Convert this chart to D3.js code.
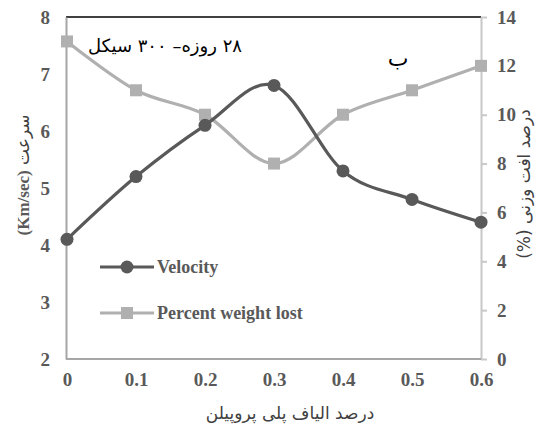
<!DOCTYPE html>
<html>
<head>
<meta charset="utf-8">
<script src="https://cdn.jsdelivr.net/npm/d3@7"></script>
<style>
  html, body { margin: 0; padding: 0; background: #fff; }
  svg { display: block; }
  .num { font-family: "Liberation Serif", "Times New Roman", serif; font-weight: bold; }
  .fa { font-family: "DejaVu Sans", "Noto Sans", sans-serif; }
</style>
</head>
<body>
<svg id="chart" width="539" height="429"></svg>
<script>
// Fibre content (%) along the x axis
const fibre = [0, 0.1, 0.2, 0.3, 0.4, 0.5, 0.6];
// Pulse velocity (Km/sec), left axis
const velocity = [4.1, 5.2, 6.1, 6.8, 5.3, 4.8, 4.4];
// Percent weight lost, right axis
const weightLost = [13, 11, 10, 8, 10, 11, 12];

const xTicks = [0, 0.1, 0.2, 0.3, 0.4, 0.5, 0.6];
const leftTicks = [2, 3, 4, 5, 6, 7, 8];
const rightTicks = [0, 2, 4, 6, 8, 10, 12, 14];

const seriesNames = ["Velocity", "Percent weight lost"];
const xTitle = "درصد الیاف پلی پروپیلن";
const leftTitleFa = "سرعت";
const leftTitleUnit = "(Km/sec)";
const rightTitle = "درصد افت وزنی (%)";
const note = "۲۸ روزه– ۳۰۰ سیکل";
const panel = "ب";

const svg = d3.select("#chart");
const m = { left: 66, right: 481, top: 17, bottom: 359 };

const x = d3.scaleLinear().domain([0, 0.6]).range([m.left + 1, m.right]);
const yL = d3.scaleLinear().domain([2, 8]).range([m.bottom, m.top]);
const yR = d3.scaleLinear().domain([0, 14]).range([m.bottom, m.top]);

const darkCol = "#595959";
const lightCol = "#b0b0b0";

// top frame line
svg.append("line")
  .attr("x1", m.left).attr("x2", m.right)
  .attr("y1", m.top).attr("y2", m.top)
  .attr("stroke", "#000").attr("stroke-width", 1.5);

// left axis
const axL = svg.append("g").attr("transform", `translate(${m.left},0)`)
  .call(d3.axisLeft(yL).tickValues(leftTicks).tickSize(0).tickPadding(16).tickFormat(d3.format("d")));
axL.select(".domain").attr("stroke", "#a6a6a6").attr("stroke-width", 2);

// right axis
const axR = svg.append("g").attr("transform", `translate(${m.right},0)`)
  .call(d3.axisRight(yR).tickValues(rightTicks).tickSize(6).tickSizeOuter(0).tickPadding(10).tickFormat(d3.format("d")));
axR.select(".domain").attr("stroke", "#c8c8c8").attr("stroke-width", 2);
axR.selectAll(".tick line").attr("stroke", "#c8c8c8").attr("stroke-width", 2);

// bottom axis
const axB = svg.append("g").attr("transform", `translate(0,${m.bottom})`)
  .call(d3.axisBottom(x).tickValues(xTicks).tickSize(0).tickPadding(14).tickFormat(d => d === 0 ? "0" : d3.format(".1f")(d)));
axB.select(".domain").attr("stroke", "#a6a6a6").attr("stroke-width", 2)
  .attr("d", `M${m.left},0H${m.right}`);

[axL, axR, axB].forEach(a => a.attr("font-family", null).attr("font-size", null));
svg.selectAll(".tick text")
  .attr("class", "num")
  .style("font-size", "19px").style("fill", darkCol);

const curve = d3.curveCardinal.tension(0);

// weight lost series
const lineR = d3.line().x((d, i) => x(fibre[i])).y(d => yR(d)).curve(curve);
svg.append("path").datum(weightLost)
  .attr("d", lineR).attr("fill", "none")
  .attr("stroke", lightCol).attr("stroke-width", 3.2);
svg.selectAll(".sq").data(weightLost).enter().append("rect")
  .attr("x", (d, i) => x(fibre[i]) - 6).attr("y", d => yR(d) - 6)
  .attr("width", 12).attr("height", 12).attr("fill", lightCol);

// velocity series
const lineL = d3.line().x((d, i) => x(fibre[i])).y(d => yL(d)).curve(curve);
svg.append("path").datum(velocity)
  .attr("d", lineL).attr("fill", "none")
  .attr("stroke", darkCol).attr("stroke-width", 3.2);
svg.selectAll(".dot").data(velocity).enter().append("circle")
  .attr("cx", (d, i) => x(fibre[i])).attr("cy", d => yL(d))
  .attr("r", 6.5).attr("fill", darkCol);

// legend
const legY = [267, 313];
seriesNames.forEach((name, i) => {
  const g = svg.append("g");
  const col = i === 0 ? darkCol : lightCol;
  g.append("line").attr("x1", 100).attr("x2", 154)
    .attr("y1", legY[i]).attr("y2", legY[i])
    .attr("stroke", col).attr("stroke-width", 3.2);
  if (i === 0) {
    g.append("circle").attr("cx", 127).attr("cy", legY[i]).attr("r", 6.5).attr("fill", col);
  } else {
    g.append("rect").attr("x", 121).attr("y", legY[i] - 6).attr("width", 12).attr("height", 12).attr("fill", col);
  }
  g.append("text").attr("class", "num").attr("x", 157).attr("y", legY[i] + 6)
    .style("font-size", "18px").style("fill", darkCol).text(name);
});

// annotations
svg.append("text").attr("class", "fa").attr("x", 242).attr("y", 52)
  .attr("direction", "rtl").attr("text-anchor", "start")
  .style("font-size", "18px").style("fill", "#000")
  .text(note);
svg.append("text").attr("class", "fa").attr("x", 398).attr("y", 66)
  .attr("text-anchor", "middle")
  .style("font-size", "22px").style("fill", "#000")
  .text(panel);

// x title
svg.append("text").attr("class", "fa").attr("x", 290).attr("y", 419)
  .attr("text-anchor", "middle").attr("direction", "rtl")
  .style("font-size", "17px").style("fill", "#404040")
  .text(xTitle);

// left title
const lt = svg.append("text")
  .attr("transform", "translate(29,175) rotate(-90)")
  .attr("text-anchor", "middle").attr("direction", "rtl")
  .style("font-size", "17px").style("fill", "#404040");
lt.append("tspan").attr("class", "fa").text(leftTitleFa + " ");
lt.append("tspan").attr("class", "num").style("fill", darkCol).text(leftTitleUnit);

// right title
svg.append("text").attr("class", "fa")
  .attr("transform", "translate(530,184) rotate(-90)")
  .attr("text-anchor", "middle").attr("direction", "rtl")
  .style("font-size", "17px").style("fill", "#404040")
  .text(rightTitle);
</script>
</body>
</html>
